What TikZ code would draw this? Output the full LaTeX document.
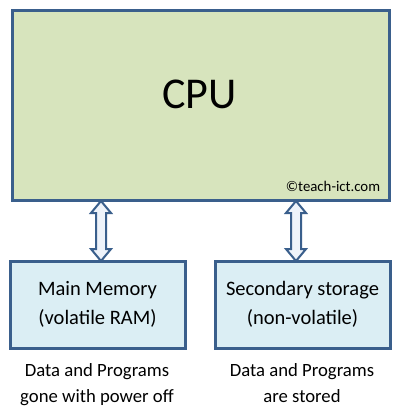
\documentclass[tikz,border=0pt]{standalone}
\usepackage{fontspec}
\setmainfont{Carlito}
\usetikzlibrary{calc}
\definecolor{bordc}{HTML}{3A5F8C}
\definecolor{cpufill}{HTML}{D7E4BD}
\definecolor{memfill}{HTML}{DBEEF4}
\definecolor{arrfill}{HTML}{EEF3FA}
\tikzset{
  box/.style={draw=bordc, line width=3pt, inner sep=0pt},
  memtext/.style={font=\fontsize{20.5}{29}\selectfont, align=center, text=black},
  caption/.style={font=\fontsize{18.7}{26}\selectfont, align=center, text=black},
  linkarrow/.style={draw=bordc, line width=2pt, fill=arrfill, line join=miter},
}
\begin{document}
\begin{tikzpicture}[x=1pt,y=-1pt]
\useasboundingbox[fill=white] (0,0) rectangle (400,410);
\node[box, fill=cpufill, minimum width=377pt, minimum height=190pt] (cpu) at (200.5,105) {};
\node[font=\fontsize{44}{50}\selectfont, anchor=base] (cputxt) at (199.5,108) {CPU};
\node[font=\fontsize{14.8}{18}\selectfont, anchor=base] (copy) at (333,191) {©teach-ict.com};
\node[box, fill=memfill, minimum width=175pt, minimum height=87pt, memtext] (mem) at (97.5,304.5) {Main Memory\\(volatile RAM)};
\node[box, fill=memfill, minimum width=175pt, minimum height=87pt, memtext] (sec) at (302.5,304.5) {Secondary storage\\(non-volatile)};
\node[caption, anchor=base] (cap1) at (97,402) {Data and Programs\\gone with power off};
\node[caption, anchor=base] (cap2) at (302,402) {Data and Programs\\are stored};
\coordinate (la) at (101,0);
\coordinate (ra) at (296,0);
\foreach \src/\dst/\col in {cpu/mem/la, cpu/sec/ra}{
  \draw[linkarrow] let \p1=($(\src.south -| \col)+(0,-0.5)$), \p2=($(\dst.north -| \col)+(0,1.5)$) in
    (\x1,\y1) -- (\x1+10pt,\y1-12pt) -- (\x1+5pt,\y1-12pt) -- (\x1+5pt,\y2+12pt)
    -- (\x1+10pt,\y2+12pt) -- (\x1,\y2) -- (\x1-10pt,\y2+12pt) -- (\x1-5pt,\y2+12pt)
    -- (\x1-5pt,\y1-12pt) -- (\x1-10pt,\y1-12pt) -- cycle;
}
\end{tikzpicture}
\end{document}
